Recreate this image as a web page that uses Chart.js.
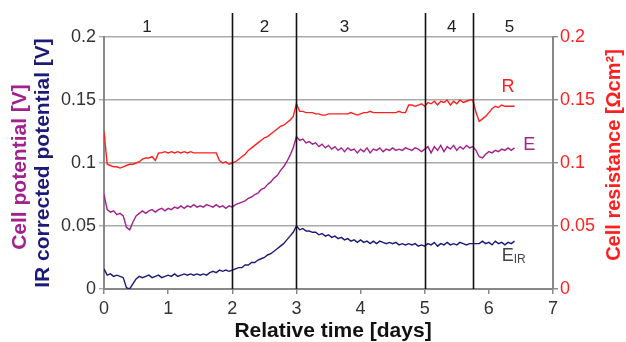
<!DOCTYPE html>
<html>
<head>
<meta charset="utf-8">
<script src="https://cdn.jsdelivr.net/npm/chart.js@4/dist/chart.umd.min.js"></script>
<style>
  body { margin: 0; background: #fff; }
  #wrap { width: 626px; height: 342px; position: relative; }
</style>
</head>
<body>
<div id="wrap"><canvas id="graph1"></canvas></div>
<script>
// relative time [days], one sample every 0.05 day
let days = [
  0.00,0.05,0.10,0.15,0.20,0.25,0.30,0.35,0.40,0.45,
  0.50,0.55,0.60,0.65,0.70,0.75,0.80,0.85,0.90,0.95,
  1.00,1.05,1.10,1.15,1.20,1.25,1.30,1.35,1.40,1.45,
  1.50,1.55,1.60,1.65,1.70,1.75,1.80,1.85,1.90,1.95,
  2.00,2.05,2.10,2.15,2.20,2.25,2.30,2.35,2.40,2.45,
  2.50,2.55,2.60,2.65,2.70,2.75,2.80,2.85,2.90,2.95,
  3.00,3.05,3.10,3.15,3.20,3.25,3.30,3.35,3.40,3.45,
  3.50,3.55,3.60,3.65,3.70,3.75,3.80,3.85,3.90,3.95,
  4.00,4.05,4.10,4.15,4.20,4.25,4.30,4.35,4.40,4.45,
  4.50,4.55,4.60,4.65,4.70,4.75,4.80,4.85,4.90,4.95,
  5.00,5.05,5.10,5.15,5.20,5.25,5.30,5.35,5.40,5.45,
  5.50,5.55,5.60,5.65,5.70,5.75,5.80,5.85,5.90,5.95,
  6.00,6.05,6.10,6.15,6.20,6.25,6.30,6.35,6.40
];

// cell resistance R [Ohm cm2]
let resistance = [
  0.125,0.099,0.098,0.097,0.097,0.096,0.097,0.098,0.099,0.099,
  0.100,0.101,0.103,0.104,0.104,0.105,0.102,0.108,0.108,0.109,
  0.108,0.109,0.108,0.109,0.108,0.109,0.108,0.109,0.108,0.108,
  0.108,0.108,0.108,0.108,0.108,0.108,0.102,0.100,0.101,0.099,
  0.100,0.101,0.103,0.105,0.107,0.110,0.112,0.114,0.116,0.118,
  0.120,0.121,0.123,0.125,0.127,0.129,0.130,0.132,0.134,0.137,
  0.147,0.141,0.141,0.140,0.140,0.140,0.139,0.139,0.138,0.138,
  0.139,0.139,0.139,0.139,0.139,0.139,0.139,0.140,0.139,0.138,
  0.139,0.140,0.140,0.141,0.140,0.140,0.140,0.140,0.140,0.140,
  0.140,0.140,0.141,0.140,0.140,0.146,0.146,0.145,0.146,0.147,
  0.145,0.148,0.147,0.149,0.146,0.149,0.148,0.150,0.146,0.149,
  0.147,0.150,0.148,0.149,0.150,0.150,0.140,0.133,0.135,0.137,
  0.140,0.143,0.145,0.144,0.146,0.145,0.145,0.145,0.145
];

// cell potential E [V]
let cellPotential = [
  0.075,0.063,0.061,0.062,0.059,0.060,0.058,0.049,0.047,0.053,
  0.058,0.060,0.062,0.060,0.062,0.063,0.061,0.063,0.064,0.062,
  0.064,0.063,0.065,0.064,0.066,0.064,0.066,0.065,0.067,0.065,
  0.066,0.065,0.067,0.066,0.065,0.067,0.065,0.066,0.064,0.066,
  0.065,0.067,0.068,0.069,0.070,0.072,0.073,0.075,0.076,0.079,
  0.080,0.083,0.085,0.088,0.090,0.094,0.097,0.101,0.106,0.112,
  0.121,0.118,0.119,0.116,0.117,0.115,0.116,0.113,0.115,0.112,
  0.114,0.111,0.113,0.110,0.112,0.109,0.112,0.110,0.111,0.108,
  0.111,0.109,0.112,0.108,0.111,0.110,0.112,0.109,0.111,0.110,
  0.112,0.110,0.111,0.110,0.112,0.111,0.110,0.112,0.111,0.109,
  0.111,0.113,0.108,0.113,0.110,0.114,0.109,0.113,0.111,0.114,
  0.110,0.113,0.111,0.114,0.112,0.113,0.110,0.105,0.104,0.107,
  0.109,0.108,0.110,0.109,0.111,0.110,0.112,0.110,0.112
];

// IR corrected potential E_IR [V]
let irPotential = [
  0.016,0.011,0.012,0.010,0.011,0.010,0.009,0.001,0.000,0.004,
  0.008,0.010,0.009,0.010,0.011,0.009,0.010,0.011,0.009,0.010,
  0.011,0.010,0.012,0.010,0.011,0.012,0.011,0.012,0.011,0.012,
  0.011,0.012,0.011,0.013,0.014,0.013,0.015,0.014,0.015,0.014,
  0.015,0.016,0.017,0.017,0.019,0.019,0.021,0.021,0.023,0.024,
  0.025,0.027,0.028,0.030,0.032,0.034,0.036,0.039,0.042,0.045,
  0.050,0.047,0.048,0.046,0.046,0.045,0.045,0.043,0.044,0.042,
  0.043,0.041,0.042,0.040,0.041,0.039,0.040,0.038,0.039,0.037,
  0.039,0.037,0.038,0.036,0.038,0.036,0.038,0.037,0.036,0.037,
  0.036,0.037,0.035,0.036,0.035,0.036,0.035,0.036,0.034,0.035,
  0.034,0.036,0.035,0.037,0.034,0.036,0.035,0.037,0.035,0.036,
  0.035,0.037,0.036,0.035,0.036,0.036,0.036,0.036,0.038,0.036,
  0.037,0.035,0.038,0.036,0.037,0.035,0.037,0.036,0.038
];

// phases of the experiment
let phaseBorders = [2, 3, 5, 5.75];
let phaseNames = ["1", "2", "3", "4", "5"];
let phaseLabelAt = [0.67, 2.5, 3.75, 5.42, 6.32];

let yTicks = [0, 0.05, 0.1, 0.15, 0.2];

const RED = "#ff1f1f";
const MAGENTA = "#a3218f";
const NAVY = "#1c1a78";
const FONT = "'Liberation Sans', Arial, sans-serif";

function toXY(ys) {
  let out = [];
  for (let i = 0; i < ys.length; i++) {
    out.push({ x: days[i], y: ys[i] });
  }
  return out;
}

// vertical phase lines, phase numbers, curve names and axis titles
const decorations = {
  id: "decorations",
  afterDatasetsDraw(chart) {
    const ctx = chart.ctx;
    const xs = chart.scales.x;
    const ys = chart.scales.y;
    const area = chart.chartArea;

    ctx.save();
    ctx.strokeStyle = "#111";
    ctx.lineWidth = 1.6;
    phaseBorders.forEach(d => {
      const px = Math.round(xs.getPixelForValue(d)) + 0.5;
      ctx.beginPath();
      ctx.moveTo(px, 13);
      ctx.lineTo(px, area.bottom);
      ctx.stroke();
    });

    ctx.fillStyle = "#222";
    ctx.font = "17px " + FONT;
    ctx.textAlign = "center";
    ctx.textBaseline = "middle";
    phaseNames.forEach((n, i) => {
      ctx.fillText(n, xs.getPixelForValue(phaseLabelAt[i]), 27);
    });

    // curve names
    ctx.font = "18px " + FONT;
    ctx.fillStyle = RED;
    ctx.fillText("R", xs.getPixelForValue(6.3), ys.getPixelForValue(0.16));
    ctx.fillStyle = MAGENTA;
    ctx.fillText("E", xs.getPixelForValue(6.63), ys.getPixelForValue(0.114));
    ctx.fillStyle = "#444";
    ctx.textAlign = "left";
    const ex = xs.getPixelForValue(6.2);
    const ey = ys.getPixelForValue(0.026);
    ctx.fillText("E", ex, ey);
    ctx.font = "12px " + FONT;
    ctx.fillText("IR", ex + 12, ey + 3);

    // axis titles
    ctx.font = "bold 21px " + FONT;
    ctx.textAlign = "center";
    ctx.fillStyle = "#111";
    ctx.fillText("Relative time [days]", 333, 331);

    ctx.save();
    ctx.translate(20, 167);
    ctx.rotate(-Math.PI / 2);
    ctx.fillStyle = MAGENTA;
    ctx.fillText("Cell potential [V]", 0, 0);
    ctx.restore();

    ctx.save();
    ctx.translate(43, 163);
    ctx.rotate(-Math.PI / 2);
    ctx.fillStyle = NAVY;
    ctx.fillText("IR corrected potential [V]", 0, 0);
    ctx.restore();

    ctx.save();
    ctx.translate(614, 155);
    ctx.rotate(-Math.PI / 2);
    ctx.fillStyle = RED;
    ctx.font = "bold 20px " + FONT;
    ctx.fillText("Cell resistance [\u03A9cm\u00B2]", 0, 0);
    ctx.restore();

    ctx.restore();
  }
};

let ctx1 = document.getElementById("graph1").getContext("2d");
let chart1 = new Chart(ctx1, {
  type: "line",
  data: {
    datasets: [
      { label: "R", data: toXY(resistance), yAxisID: "y2", borderColor: RED, borderWidth: 1.4, pointRadius: 0, fill: false, tension: 0 },
      { label: "E", data: toXY(cellPotential), yAxisID: "y", borderColor: MAGENTA, borderWidth: 1.4, pointRadius: 0, fill: false, tension: 0 },
      { label: "EIR", data: toXY(irPotential), yAxisID: "y", borderColor: NAVY, borderWidth: 1.4, pointRadius: 0, fill: false, tension: 0 }
    ]
  },
  options: {
    responsive: true,
    maintainAspectRatio: false,
    animation: false,
    layout: { padding: { top: 37, left: 0, right: 0, bottom: 0 } },
    plugins: { legend: { display: false }, tooltip: { enabled: false } },
    scales: {
      x: {
        type: "linear",
        min: 0, max: 7,
        ticks: { stepSize: 1, color: "#333", font: { size: 18, family: FONT }, padding: 4, maxRotation: 0 },
        grid: { drawOnChartArea: false, drawTicks: true, tickLength: 5, color: "#888", lineWidth: 1.5 },
        border: { display: true, color: "#888", width: 2 },
        afterFit: s => { s.height = 53; }
      },
      y: {
        position: "left",
        min: 0, max: 0.2,
        afterBuildTicks: s => { s.ticks = yTicks.map(v => ({ value: v })); },
        ticks: { color: "#333", font: { size: 18, family: FONT }, padding: 3, callback: v => String(+v.toFixed(2)) },
        grid: { color: "#aaa", lineWidth: 1.4, tickLength: 5 },
        border: { display: true, color: "#888", width: 2 },
        afterFit: s => { s.width = 104; }
      },
      y2: {
        position: "right",
        min: 0, max: 0.2,
        afterBuildTicks: s => { s.ticks = yTicks.map(v => ({ value: v })); },
        ticks: { color: RED, font: { size: 18, family: FONT }, padding: 2, callback: v => String(+v.toFixed(2)) },
        grid: { drawOnChartArea: false, tickLength: 5, color: "#888", lineWidth: 1.4 },
        border: { display: true, color: "#888", width: 2 },
        afterFit: s => { s.width = 73; }
      }
    }
  },
  plugins: [decorations]
});
</script>
</body>
</html>
